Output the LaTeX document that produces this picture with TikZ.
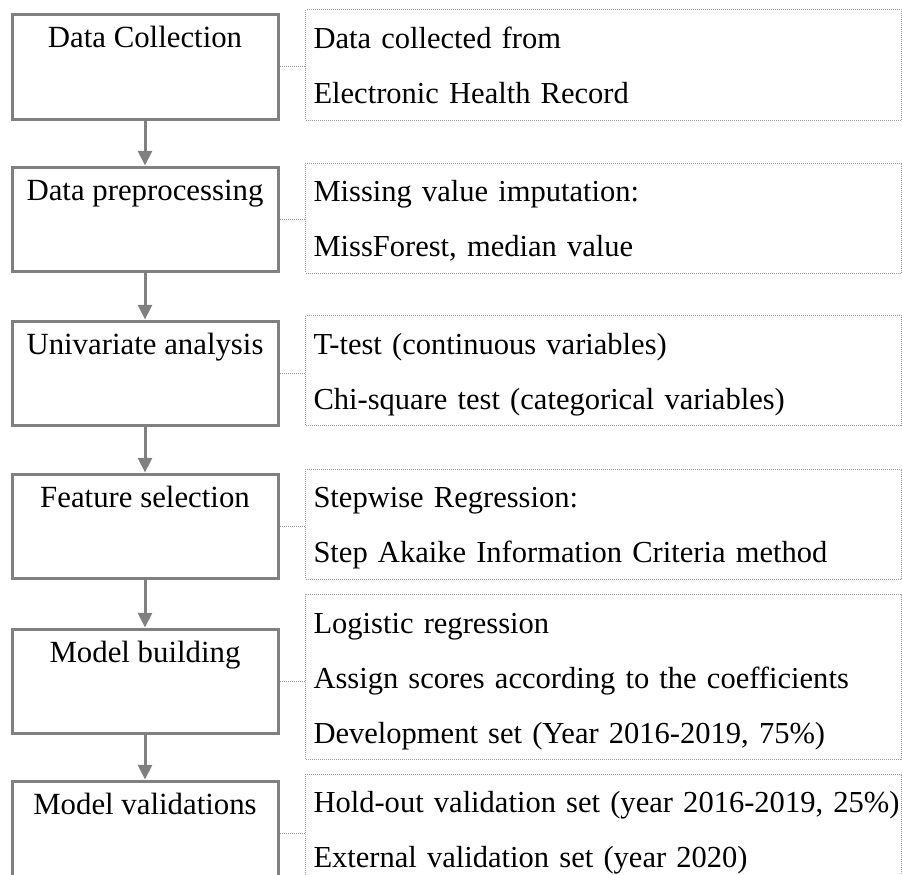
\documentclass[tikz,border=0pt]{standalone}
\usepackage{fontspec}
\setmainfont{Liberation Serif}
\usetikzlibrary{arrows.meta}
\definecolor{boxgray}{HTML}{808080}
\definecolor{dotgray}{HTML}{9A9A9A}
\tikzset{
  stepbox/.style={draw=boxgray, line width=2.25pt, inner sep=0pt,
    minimum width=199.5pt, text height=24.75pt, text depth=53.25pt,
    anchor=north, font=\fontsize{23.1pt}{41.25pt}\selectfont},
  infobox/.style={draw=dotgray, line width=0.75pt, dash pattern=on 0.75pt off 0.75pt,
    inner xsep=6pt, inner ysep=0pt, minimum width=447pt, minimum height=78pt,
    text width=435pt, align=left, anchor=west,
    font=\fontsize{22.9pt}{41.25pt}\selectfont},
  flowarrow/.style={draw=boxgray, line width=2.25pt,
    -{Triangle[width=10.5pt,length=11pt]}},
  linkline/.style={draw=dotgray, line width=0.75pt, dash pattern=on 0.75pt off 0.75pt}
}
\begin{document}
\begin{tikzpicture}[x=0.75pt, y=-0.75pt]
\useasboundingbox (0,0) rectangle (902,874);
\clip (0,0) rectangle (902,874);
% left step boxes
\node[stepbox] (L1) at (145,13.5) {Data Collection};
\node[stepbox] (L2) at (145,165.5) {Data preprocessing};
\node[stepbox] (L3) at (145,319.5) {Univariate analysis};
\node[stepbox] (L4) at (145,472.5) {Feature selection};
\node[stepbox] (L5) at (145,627.5) {Model building};
\node[stepbox] (L6) at (145,779.5) {Model validations};
% right info boxes
\node[infobox] (R1) at (305,65) {\strut Data collected from\\\strut Electronic Health Record};
\node[infobox] (R2) at (305,218) {\strut Missing value imputation:\\\strut MissForest, median value};
\node[infobox] (R3) at (305,370.5) {\strut T-test (continuous variables)\\\strut Chi-square test (categorical variables)};
\node[infobox] (R4) at (305,524) {\strut Stepwise Regression:\\\strut Step Akaike Information Criteria method};
\node[infobox, minimum height=118.5pt] (R5) at (305,677) {\strut Logistic regression\\\strut Assign scores according to the coefficients\\\strut Development set (Year 2016-2019, 75\%)};
\node[infobox, minimum height=79.5pt] (R6) at (305,829) {\strut\mbox{Hold-out validation set (year 2016-2019, 25\%)}\\\strut External validation set (year 2020)};
% arrows
\draw[flowarrow] (L1.south) -- (L2.north);
\draw[flowarrow] (L2.south) -- (L3.north);
\draw[flowarrow] (L3.south) -- (L4.north);
\draw[flowarrow] (L4.south) -- (L5.north);
\draw[flowarrow] (L5.south) -- (L6.north);
% dotted links
\draw[linkline] (L1.east) -- (L1.east -| R1.west);
\draw[linkline] (L2.east) -- (L2.east -| R2.west);
\draw[linkline] (L3.east) -- (L3.east -| R3.west);
\draw[linkline] (L4.east) -- (L4.east -| R4.west);
\draw[linkline] (L5.east) -- (L5.east -| R5.west);
\draw[linkline] (L6.east) -- (L6.east -| R6.west);
\end{tikzpicture}
\end{document}
